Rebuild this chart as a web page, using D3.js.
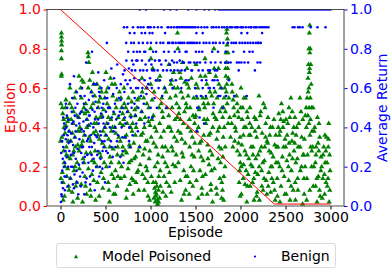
<!DOCTYPE html>
<html><head><meta charset="utf-8">
<script src="https://cdn.jsdelivr.net/npm/d3@7"></script>
<style>body{margin:0;background:#fff} text{font-family:"DejaVu Sans",sans-serif}</style>
</head><body><svg id="c" width="392" height="273"></svg>
<script>
const xTicks=[0,500,1000,1500,2000,2500,3000];
const yTicks=[0,0.2,0.4,0.6,0.8,1.0];
const seriesNames=["Model Poisoned","Benign"];
const epsilonEpisodes=[0,2375,3000];
const epsilonValues=[1.0,0.01,0.01];

const poisoned=[
[10,0.88],[10,0.86],[12,0.84],[12,0.82],[10,0.79],[10,0.75],[12,0.67],[10,0.66],[5,0.52],[55,0.5],[25,0.47],[80,0.43],[40,0.4],[95,0.38],[15,0.35],[65,0.3],[35,0.28],[85,0.25],[50,0.2],[20,0.17],[70,0.15],[30,0.12],[90,0.1],[45,0.05],[60,0.54],[75,0.45],[0,0.33],[40,0.22],
[105,0.6],[155,0.55],[125,0.5],[180,0.46],[140,0.42],[195,0.38],[115,0.33],[165,0.3],[135,0.26],[185,0.22],[150,0.18],[110,0.14],[170,0.1],[130,0.07],[190,0.04],[145,0.48],[160,0.35],
[205,0.66],[255,0.63],[225,0.6],[280,0.52],[240,0.48],[295,0.44],[215,0.4],[265,0.36],[235,0.31],[285,0.27],[250,0.24],[210,0.19],[270,0.15],[230,0.11],[290,0.06],[245,0.02],[260,0.5],[220,0.3],
[305,0.78],[310,0.76],[315,0.73],[355,0.68],[325,0.64],[380,0.56],[340,0.5],[395,0.45],[315,0.41],[365,0.37],[335,0.33],[385,0.28],[350,0.23],[310,0.19],[370,0.13],[330,0.08],[390,0.03],[345,0.58],[375,0.42],
[405,0.62],[455,0.58],[425,0.53],[480,0.49],[440,0.45],[495,0.4],[415,0.36],[465,0.32],[435,0.27],[485,0.22],[450,0.17],[410,0.12],[470,0.09],[430,0.05],[490,0.3],[445,0.55],
[505,0.68],[555,0.65],[525,0.6],[580,0.56],[540,0.5],[595,0.47],[515,0.42],[565,0.38],[535,0.34],[585,0.29],[550,0.25],[510,0.2],[570,0.16],[530,0.12],[590,0.06],[545,0.02],[560,0.44],
[605,0.62],[655,0.58],[625,0.54],[680,0.5],[640,0.45],[695,0.41],[615,0.37],[665,0.33],[635,0.3],[685,0.26],[650,0.22],[610,0.18],[670,0.14],[630,0.1],[690,0.47],
[705,0.6],[755,0.55],[725,0.5],[780,0.46],[740,0.42],[795,0.38],[715,0.35],[765,0.31],[735,0.27],[785,0.23],[750,0.19],[710,0.15],[770,0.11],[730,0.04],[790,0.53],
[805,0.58],[855,0.54],[825,0.49],[880,0.44],[840,0.4],[895,0.36],[815,0.32],[865,0.28],[835,0.25],[885,0.21],[850,0.17],[810,0.13],[870,0.08],[830,0.46],
[905,0.65],[955,0.6],[925,0.55],[980,0.5],[940,0.45],[995,0.41],[915,0.37],[965,0.33],[935,0.29],[985,0.24],[950,0.2],[910,0.16],[970,0.12],[930,0.08],[990,0.03],[960,0.52],
[1000,0.8],[1005,0.75],[1025,0.7],[1080,0.64],[1040,0.58],[1095,0.5],[1015,0.44],[1065,0.38],[1035,0.32],[1085,0.26],[1050,0.2],[1010,0.15],[1070,0.1],[1055,0.07],[1060,0.05],[1075,0.03],[1080,0.01],[1090,0.02],[1065,0.06],[1045,0.09],[1100,0.04],[1030,0.12],
[1105,0.66],[1155,0.6],[1125,0.55],[1180,0.5],[1140,0.45],[1195,0.4],[1115,0.35],[1165,0.3],[1135,0.25],[1185,0.2],[1150,0.15],[1110,0.1],[1170,0.05],[1130,0.48],
[1205,0.72],[1255,0.68],[1225,0.62],[1280,0.56],[1240,0.5],[1295,0.45],[1215,0.4],[1265,0.35],[1235,0.3],[1285,0.26],[1250,0.21],[1210,0.17],[1270,0.12],[1230,0.07],[1290,0.52],
[1300,0.88],[1305,0.8],[1355,0.73],[1325,0.68],[1380,0.63],[1340,0.58],[1395,0.52],[1315,0.47],[1365,0.42],[1335,0.37],[1385,0.32],[1350,0.27],[1310,0.22],[1370,0.18],[1330,0.13],[1390,0.08],[1345,0.03],[1360,0.55],
[1405,0.7],[1455,0.65],[1425,0.6],[1480,0.55],[1440,0.5],[1495,0.45],[1415,0.4],[1465,0.35],[1435,0.3],[1485,0.25],[1450,0.2],[1410,0.15],[1470,0.1],[1430,0.06],[1490,0.42],
[1505,0.72],[1555,0.66],[1525,0.6],[1580,0.55],[1540,0.49],[1595,0.44],[1515,0.38],[1565,0.33],[1535,0.28],[1585,0.23],[1550,0.18],[1510,0.13],[1570,0.09],[1530,0.04],[1590,0.52],
[1605,0.75],[1655,0.68],[1625,0.62],[1680,0.56],[1640,0.52],[1695,0.47],[1615,0.42],[1665,0.37],[1635,0.31],[1685,0.26],[1650,0.21],[1610,0.16],[1670,0.11],[1630,0.06],[1690,0.02],[1660,0.58],
[1705,0.8],[1755,0.7],[1725,0.66],[1780,0.6],[1740,0.55],[1795,0.5],[1715,0.45],[1765,0.4],[1735,0.34],[1785,0.29],[1750,0.24],[1710,0.19],[1770,0.14],[1730,0.09],[1790,0.04],[1760,0.62],
[1850,0.9],[1845,0.88],[1855,0.85],[1850,0.82],[1840,0.78],[1860,0.78],[1845,0.73],[1835,0.7],[1865,0.65],[1825,0.6],[1870,0.55],[1810,0.5],[1880,0.45],[1820,0.4],[1890,0.35],[1830,0.3],[1805,0.25],[1815,0.15],[1800,0.08],
[1905,0.62],[1955,0.56],[1925,0.5],[1980,0.45],[1940,0.4],[1995,0.35],[1915,0.3],[1965,0.28],[1990,0.18],[1995,0.05],[1935,0.33],[1970,0.48],
[2005,0.6],[2055,0.55],[2025,0.5],[2080,0.45],[2040,0.4],[2095,0.36],[2015,0.31],[2065,0.26],[2035,0.21],[2085,0.16],[2050,0.11],[2010,0.06],[2070,0.02],[2030,0.14],[2060,0.4],
[2105,0.5],[2155,0.45],[2125,0.4],[2180,0.35],[2140,0.3],[2195,0.26],[2115,0.21],[2165,0.17],[2135,0.12],[2185,0.07],[2150,0.03],[2110,0.36],[2170,0.24],
[2205,0.56],[2255,0.52],[2225,0.48],[2280,0.42],[2240,0.37],[2295,0.33],[2215,0.28],[2265,0.23],[2235,0.18],[2285,0.13],[2250,0.08],[2210,0.03],[2270,0.3],
[2305,0.45],[2355,0.4],[2325,0.36],[2380,0.31],[2340,0.27],[2395,0.22],[2315,0.17],[2365,0.12],[2335,0.07],[2385,0.03],[2350,0.2],
[2470,0.48],[2455,0.52],[2425,0.47],[2480,0.43],[2440,0.38],[2495,0.34],[2415,0.3],[2465,0.25],[2435,0.2],[2485,0.15],[2450,0.1],[2410,0.05],[2420,0.4],
[2505,0.44],[2560,0.55],[2525,0.42],[2580,0.37],[2540,0.32],[2595,0.28],[2515,0.23],[2565,0.18],[2535,0.13],[2585,0.08],[2550,0.03],[2575,0.48],[2545,0.26],
[2605,0.45],[2660,0.55],[2625,0.4],[2680,0.35],[2640,0.3],[2695,0.26],[2615,0.22],[2665,0.18],[2635,0.14],[2610,0.03],[2690,0.01],
[2770,0.92],[2765,0.88],[2760,0.8],[2775,0.8],[2770,0.78],[2755,0.72],[2780,0.72],[2765,0.68],[2750,0.65],[2785,0.62],[2760,0.6],[2740,0.55],[2775,0.55],[2730,0.5],[2790,0.5],[2720,0.46],[2760,0.42],[2795,0.38],[2710,0.34],[2780,0.3],[2745,0.26],[2790,0.2],[2705,0.14],[2770,0.08],[2735,0.03],
[2805,0.5],[2855,0.45],[2825,0.4],[2880,0.35],[2840,0.3],[2895,0.25],[2815,0.2],[2865,0.15],[2835,0.1],[2885,0.05],[2850,0.02],[2870,0.28],
[2980,0.42],[2955,0.35],[2925,0.3],[2990,0.26],[2940,0.22],[2995,0.18],[2915,0.14],[2965,0.1],[2935,0.06],[2985,0.02],[2950,0.12],[2975,0.3],
[20,0.5],[35,0.44],[50,0.37],[65,0.26],[80,0.19],[95,0.08],[5,0.14],[30,0.03],[85,0.33],[60,0.41],
[102,0.52],[118,0.44],[132,0.37],[148,0.28],[162,0.2],[178,0.12],[192,0.31],[108,0.24],[172,0.58],[138,0.02],
[202,0.45],[218,0.38],[232,0.55],[248,0.33],[262,0.22],[278,0.1],[292,0.4],[208,0.28],[272,0.47],[238,0.64],
[302,0.48],[318,0.35],[332,0.27],[348,0.16],[362,0.52],[378,0.22],[392,0.38],[308,0.6],[368,0.62],[338,0.05],
[402,0.42],[418,0.5],[432,0.34],[448,0.25],[462,0.46],[478,0.14],[492,0.55],[408,0.2],[472,0.38],[438,0.6],
[502,0.36],[518,0.52],[532,0.45],[548,0.3],[562,0.22],[578,0.4],[592,0.14],[508,0.58],[572,0.62],[538,0.08],
[602,0.4],[618,0.5],[632,0.26],[648,0.35],[662,0.42],[678,0.2],[692,0.3],[608,0.06],[672,0.55],[638,0.15],
[702,0.44],[718,0.28],[732,0.36],[748,0.48],[762,0.22],[778,0.4],[792,0.14],[708,0.52],[772,0.3],[738,0.08],
[802,0.42],[818,0.24],[832,0.36],[848,0.5],[862,0.18],[878,0.3],[892,0.44],[808,0.06],[872,0.55],[838,0.12],
[902,0.48],[918,0.26],[932,0.4],[948,0.33],[962,0.18],[978,0.43],[992,0.28],[908,0.58],[972,0.05],[938,0.14],
[1002,0.62],[1018,0.54],[1032,0.46],[1048,0.4],[1062,0.3],[1078,0.22],[1092,0.15],[1008,0.35],[1072,0.0],[1038,0.04],[1052,0.02],[1088,0.08],[1058,0.12],
[1102,0.42],[1118,0.52],[1132,0.3],[1148,0.38],[1162,0.22],[1178,0.12],[1192,0.28],[1108,0.18],[1172,0.58],[1138,0.07],
[1202,0.46],[1218,0.55],[1232,0.38],[1248,0.28],[1262,0.6],[1278,0.2],[1292,0.33],[1208,0.1],[1272,0.44],[1238,0.64],
[1302,0.6],[1318,0.5],[1332,0.44],[1348,0.34],[1362,0.25],[1378,0.48],[1392,0.15],[1308,0.38],[1372,0.06],[1338,0.65],
[1402,0.5],[1418,0.56],[1432,0.44],[1448,0.38],[1462,0.26],[1478,0.18],[1492,0.32],[1408,0.62],[1472,0.46],[1438,0.12],
[1502,0.46],[1518,0.55],[1532,0.4],[1548,0.32],[1562,0.25],[1578,0.15],[1592,0.36],[1508,0.62],[1572,0.06],[1538,0.5],
[1602,0.5],[1618,0.55],[1632,0.44],[1648,0.36],[1662,0.28],[1678,0.18],[1692,0.4],[1608,0.66],[1672,0.08],[1638,0.24],
[1702,0.52],[1718,0.58],[1732,0.44],[1748,0.38],[1762,0.3],[1778,0.22],[1792,0.12],[1708,0.7],[1772,0.48],[1738,0.06],
[1802,0.45],[1818,0.55],[1832,0.48],[1848,0.62],[1838,0.66],[1858,0.7],[1842,0.58],[1808,0.35],[1828,0.2],[1812,0.03],[1852,0.52],[1862,0.42],
[1902,0.42],[1918,0.54],[1932,0.46],[1948,0.38],[1962,0.52],[1978,0.32],[1992,0.26],[1908,0.58],[1985,0.12],[1998,0.22],
[2002,0.5],[2018,0.44],[2032,0.36],[2048,0.28],[2062,0.18],[2078,0.1],[2092,0.24],[2008,0.2],[2072,0.48],[2038,0.55],
[2102,0.42],[2118,0.3],[2132,0.2],[2148,0.14],[2162,0.38],[2178,0.05],[2192,0.16],[2108,0.1],[2172,0.44],[2138,0.26],
[2202,0.4],[2218,0.46],[2232,0.3],[2248,0.22],[2262,0.14],[2278,0.35],[2292,0.06],[2208,0.2],[2272,0.5],[2238,0.1],
[2302,0.32],[2318,0.28],[2332,0.4],[2348,0.14],[2362,0.25],[2378,0.08],[2392,0.36],[2308,0.1],[2372,0.44],[2338,0.2],
[2402,0.3],[2418,0.22],[2432,0.36],[2448,0.44],[2462,0.18],[2478,0.3],[2492,0.06],[2408,0.14],[2472,0.4],[2438,0.02],
[2502,0.3],[2518,0.36],[2532,0.2],[2548,0.45],[2562,0.1],[2578,0.24],[2592,0.4],[2508,0.06],[2572,0.33],[2538,0.5],
[2602,0.32],[2618,0.36],[2632,0.24],[2648,0.42],[2662,0.3],[2678,0.2],[2692,0.44],[2608,0.12],[2672,0.48],[2638,0.08],
[2702,0.26],[2718,0.2],[2732,0.4],[2748,0.46],[2762,0.5],[2778,0.44],[2792,0.28],[2708,0.06],[2772,0.36],[2738,0.14],[2752,0.58],[2768,0.7],
[2802,0.3],[2818,0.38],[2832,0.22],[2848,0.14],[2862,0.32],[2878,0.08],[2892,0.18],[2808,0.1],[2872,0.42],[2838,0.26],
[2902,0.2],[2918,0.26],[2932,0.16],[2948,0.28],[2962,0.22],[2978,0.34],[2992,0.08],[2908,0.04],[2972,0.14],[2938,0.36]
];

const benign=[
[5,0.02],[10,0.06],[15,0.12],[20,0.18],[25,0.24],[30,0.3],[35,0.36],[40,0.42],[45,0.15],[50,0.22],[55,0.28],[60,0.34],[65,0.4],[70,0.46],[75,0.5],[80,0.1],[85,0.2],[90,0.32],[95,0.38],[30,0.45],[60,0.52],[15,0.05],[50,0.08],
[105,0.62],[110,0.14],[115,0.26],[120,0.37],[125,0.48],[130,0.55],[135,0.2],[140,0.31],[145,0.43],[150,0.09],[155,0.16],[160,0.35],[165,0.5],[170,0.24],[175,0.41],[180,0.58],[185,0.12],[190,0.29],[195,0.45],[150,0.66],
[205,0.21],[210,0.34],[215,0.47],[220,0.56],[225,0.1],[230,0.27],[235,0.39],[240,0.6],[245,0.17],[250,0.3],[255,0.43],[260,0.52],[265,0.06],[270,0.25],[275,0.36],[280,0.49],[285,0.73],[290,0.14],[295,0.33],
[305,0.41],[310,0.22],[315,0.54],[320,0.3],[325,0.46],[330,0.11],[335,0.36],[340,0.58],[345,0.26],[350,0.785],[355,0.49],[360,0.18],[365,0.4],[370,0.62],[375,0.32],[380,0.08],[385,0.44],[390,0.53],[395,0.2],
[405,0.35],[410,0.5],[415,0.28],[420,0.68],[425,0.42],[430,0.15],[435,0.56],[440,0.38],[445,0.24],[450,0.47],[455,0.6],[460,0.33],[465,0.19],[470,0.45],[475,0.52],[480,0.3],[485,0.64],[490,0.4],[495,0.12],
[505,0.48],[510,0.36],[515,0.83],[520,0.55],[525,0.27],[530,0.42],[540,0.6],[545,0.2],[550,0.5],[560,0.33],[565,0.7],[570,0.45],[580,0.25],[585,0.57],[590,0.38],[595,0.65],
[605,0.52],[610,0.3],[620,0.44],[625,0.6],[630,0.72],[640,0.36],[650,0.55],[660,0.48],[665,0.25],[670,0.62],[680,0.4],[690,0.5],[695,0.67],
[8,0.27],[18,0.33],[28,0.09],[38,0.2],[48,0.39],[58,0.15],[68,0.25],[78,0.36],[88,0.44],[98,0.28],
[108,0.33],[118,0.2],[128,0.42],[138,0.11],[148,0.27],[158,0.46],[168,0.38],[178,0.18],[188,0.52],[198,0.06],
[208,0.42],[218,0.15],[228,0.48],[238,0.3],[248,0.22],[258,0.38],[268,0.56],[278,0.12],[288,0.44],[298,0.26],
[308,0.34],[318,0.46],[328,0.15],[338,0.42],[348,0.3],[358,0.56],[368,0.24],[378,0.48],[388,0.36],[398,0.62],
[408,0.26],[418,0.44],[428,0.58],[438,0.2],[448,0.36],[458,0.5],[468,0.28],[478,0.42],[488,0.33],[498,0.55],
[508,0.28],[528,0.5],[548,0.4],[568,0.3],[588,0.48],[608,0.4],[628,0.33],[648,0.46],[668,0.54],[688,0.35],
[705,0.91],[710,0.58],[715,0.45],[720,0.35],[730,0.83],[740,0.91],[745,0.62],[750,0.52],[760,0.7],[765,0.4],[770,0.88],[775,0.3],[780,0.6],[785,0.83],[790,0.5],[795,0.74],
[805,0.91],[810,0.72],[815,0.83],[820,0.65],[825,0.55],[830,0.69],[835,0.46],[840,0.6],[850,0.785],[855,0.74],[860,0.91],[865,0.5],[870,0.83],[875,0.64],[880,1.0],[885,0.69],[890,0.91],[895,0.56],[860,0.38],[880,0.3],
[905,0.74],[910,0.6],[915,0.83],[920,0.69],[925,0.52],[930,0.785],[935,0.64],[940,0.88],[945,0.72],[950,1.0],[955,0.57],[960,0.69],[965,0.83],[970,0.91],[975,0.62],[980,0.45],[985,0.74],[990,0.88],[995,0.65],
[1005,0.83],[1010,0.72],[1015,0.6],[1020,0.69],[1030,0.785],[1040,0.91],[1045,0.55],[1050,0.74],[1060,0.64],[1065,0.83],[1070,0.5],[1080,0.69],[1090,0.6],[1095,0.74],
[1105,0.64],[1110,0.83],[1120,0.72],[1130,0.56],[1140,0.69],[1150,0.785],[1160,0.6],[1170,0.74],[1180,0.5],[1190,0.91],[1195,0.83],
[1200,0.91],[1210,0.83],[1215,0.72],[1220,1.0],[1225,0.69],[1230,0.91],[1240,0.74],[1245,0.6],[1250,0.83],[1260,0.91],[1265,0.69],[1270,0.785],[1280,0.83],[1290,0.91],[1295,0.73],
[1300,0.91],[1310,0.83],[1320,0.91],[1325,0.74],[1330,0.83],[1340,0.91],[1345,0.69],[1350,0.83],[1360,0.91],[1370,0.73],[1375,0.83],[1380,0.91],[1390,0.785],[1395,0.64],
[1400,0.91],[1410,0.83],[1420,0.91],[1425,0.73],[1430,0.83],[1440,0.91],[1450,0.83],[1455,0.69],[1460,0.91],[1470,0.83],[1480,0.91],[1485,0.73],[1490,0.83],[1495,0.6],
[712,0.69],[722,0.64],[732,0.74],[752,0.785],[772,0.64],[792,0.69],[812,0.785],[822,0.88],[842,0.74],[862,0.6],[882,0.785],[902,0.88],[922,0.91],[942,0.785],[962,0.6],[982,0.91],[1002,0.91],[1022,0.88],[1042,0.69],[1062,0.785],
[1082,0.91],[1102,0.74],[1122,0.91],[1142,0.83],[1162,0.88],[1182,0.69],[1202,0.785],[1222,0.64],[1242,0.83],[1262,0.73],[1282,0.64],[1302,0.69],[1322,0.785],[1342,0.6],[1362,0.73],[1382,0.69],[1402,0.785],[1422,0.64],[1442,0.73],[1462,0.69],
[722,0.42],[742,0.48],[762,0.33],[782,0.45],[802,0.36],[822,0.52],[842,0.42],[902,0.48],[932,0.42],[1002,0.5],[1022,0.45],[700,0.22],[690,0.28],
[1500,0.91],[1510,0.56],[1515,0.83],[1520,0.73],[1525,0.5],[1530,0.91],[1540,0.785],[1545,0.83],[1550,0.73],[1560,0.56],[1565,0.91],[1570,0.64],[1580,0.69],[1590,0.83],[1595,0.42],[1510,0.88],[1580,0.88],
[1600,0.91],[1610,0.73],[1620,0.83],[1630,0.91],[1640,0.69],[1650,1.0],[1655,0.83],[1660,0.6],[1670,0.73],[1680,0.91],[1690,0.64],[1695,0.83],
[1700,0.91],[1705,0.6],[1710,0.64],[1720,0.73],[1725,0.83],[1730,0.91],[1740,0.69],[1750,0.785],[1755,0.56],[1760,0.91],[1770,0.83],[1780,0.73],[1790,0.6],[1795,0.91],
[1810,0.83],[1820,0.91],[1830,0.73],[1840,0.56],[1850,0.91],[1860,0.83],[1870,0.64],[1880,0.91],[1890,0.73],
[1900,0.83],[1910,0.91],[1920,0.785],[1930,0.56],[1940,0.91],[1950,0.83],[1960,0.73],[1970,0.91],[1980,0.69],[1990,0.83],
[2000,0.91],[2010,0.73],[2010,0.88],[2020,0.83],[2030,0.91],[2040,0.785],[2050,0.83],[2060,0.91],[2070,0.56],[2075,0.88],[2080,0.83],[2090,0.91],
[2100,0.785],[2110,0.83],[2120,0.91],[2140,0.83],[2150,0.91],[2160,0.69],[2170,0.83],[2180,0.91],[2190,0.73],
[2200,0.83],[2210,0.91],[2220,0.73],[2230,0.91],[2240,0.88],[2250,0.91],[2270,0.91],[2290,0.91],[2310,0.91],
[1505,0.785],[1535,0.69],[1575,0.785],[1615,0.56],[1645,0.6],[1685,0.785],[1715,0.69],[1745,0.64],[1775,0.56],[1805,0.5],[1835,0.785],[1865,0.73],[1895,0.91],[1925,0.83],[1955,0.91],[1985,0.73],
[2015,0.91],[2045,0.73],[2085,0.73],[2115,0.91],[2135,0.785],[2165,0.91],[2195,0.83],[2225,0.83],[1520,0.5],[1545,0.45],[1700,0.5],[1580,0.6],[1620,0.64],[1660,0.69],[1515,0.38],
[2580,0.91],[2600,0.91],[2640,0.91],[2660,0.91],[2690,0.91],[2780,0.91],[2855,0.91],[2945,0.91],
[1150,1.0],[1290,1.0],[1420,1.0],[1510,1.0],[1600,1.0],[1720,1.0],[1760,1.0],[1780,1.0],[1800,1.0],[1820,1.0],[1840,1.0],[1860,1.0],[1880,1.0],[1900,1.0],[1920,1.0],[1940,1.0],[1960,1.0],[1980,1.0],
[2000,1.0],[2020,1.0],[2040,1.0],[2060,1.0],[2080,1.0],[2100,1.0],[2120,1.0],[2140,1.0],[2160,1.0],[2180,1.0],[2200,1.0],[2220,1.0],[2240,1.0],[2260,1.0],[2280,1.0],[2300,1.0],[2320,1.0],[2340,1.0],[2360,1.0],[2380,1.0],
[2400,1.0],[2420,1.0],[2440,1.0],[2460,1.0],[2480,1.0],[2500,1.0],[2520,1.0],[2540,1.0],[2560,1.0],[2580,1.0],[2600,1.0],[2620,1.0],[2640,1.0],[2660,1.0],[2680,1.0],[2700,1.0],[2720,1.0],[2740,1.0],[2760,1.0],[2780,1.0],
[2800,1.0],[2820,1.0],[2840,1.0],[2860,1.0],[2880,1.0],[2900,1.0],[2920,1.0],[2940,1.0],[2960,1.0],[2980,1.0],[3000,1.0]
];

const P={l:47,r:344,t:9.5,b:206};
const svg=d3.select("#c");
const x=d3.scaleLinear().domain([-150,3150]).range([P.l,P.r]);
const yL=d3.scaleLinear().domain([0,1]).range([P.b,P.t]);
const yR=d3.scaleLinear().domain([0,1]).range([P.b,P.t]);
const GREEN="#008000",BLUE="#0000ff",RED="#ff0000";

svg.append("defs").append("clipPath").attr("id","clip").append("rect")
  .attr("x",P.l).attr("y",P.t).attr("width",P.r-P.l).attr("height",P.b-P.t);

const plot=svg.append("g").attr("clip-path","url(#clip)");
const tri=d3.symbol().type(d3.symbolTriangle).size(12);
plot.append("g").selectAll("path").data(poisoned).join("path")
  .attr("d",tri).attr("transform",d=>`translate(${x(d[0])},${yL(d[1])})`).attr("fill",GREEN);
plot.append("g").selectAll("circle").data(benign).join("circle")
  .attr("cx",d=>x(d[0])).attr("cy",d=>yR(d[1])).attr("r",1.3).attr("fill",BLUE);
const eps=epsilonEpisodes.map((e,i)=>[e,epsilonValues[i]]);
plot.append("path").datum(eps).attr("fill","none").attr("stroke",RED).attr("stroke-width",1)
  .attr("d",d3.line().x(d=>x(d[0])).y(d=>yL(d[1])));

function styleAxis(g,color,lineColor){
  g.select(".domain").remove();
  g.selectAll(".tick line").attr("stroke",lineColor);
  g.selectAll(".tick text").attr("fill",color).style("font-size","14px").style("font-family","DejaVu Sans");
}
const fmt=d3.format(".1f");
const gx=svg.append("g").attr("transform",`translate(0,${P.b})`)
  .call(d3.axisBottom(x).tickValues(xTicks).tickFormat(d3.format("d")).tickSize(3.5).tickPadding(2.5));
styleAxis(gx,"#000","#000");
const gl=svg.append("g").attr("transform",`translate(${P.l},0)`)
  .call(d3.axisLeft(yL).tickValues(yTicks).tickFormat(fmt).tickSize(3.5).tickPadding(2.5));
styleAxis(gl,RED,RED);
const gr=svg.append("g").attr("transform",`translate(${P.r},0)`)
  .call(d3.axisRight(yR).tickValues(yTicks).tickFormat(fmt).tickSize(3.5).tickPadding(2.5));
styleAxis(gr,BLUE,BLUE);

svg.append("rect").attr("x",P.l).attr("y",P.t).attr("width",P.r-P.l).attr("height",P.b-P.t)
  .attr("fill","none").attr("stroke","#222").attr("stroke-width",0.8);
svg.append("line").attr("x1",P.r).attr("x2",P.r).attr("y1",P.t).attr("y2",P.b).attr("stroke","#999").attr("stroke-width",0.8);

svg.append("text").attr("x",(P.l+P.r)/2).attr("y",237).attr("text-anchor","middle")
  .style("font-size","14px").text("Episode");
svg.append("text").attr("transform",`translate(15,${(P.t+P.b)/2}) rotate(-90)`).attr("text-anchor","middle")
  .attr("fill",RED).style("font-size","14px").text("Epsilon");
svg.append("text").attr("transform",`translate(387,${(P.t+P.b)/2}) rotate(-90)`).attr("text-anchor","middle")
  .attr("fill",BLUE).style("font-size","14px").text("Average Return");

const lg=svg.append("g");
lg.append("rect").attr("x",56.5).attr("y",243.5).attr("width",279).attr("height",24).attr("rx",2.5)
  .attr("fill","#fff").attr("stroke","#d0d0d0").attr("stroke-width",0.8);
lg.append("path").attr("d",d3.symbol().type(d3.symbolTriangle).size(8)).attr("transform","translate(76,257)").attr("fill",GREEN);
lg.append("text").attr("x",102).attr("y",260.5).style("font-size","14px").text(seriesNames[0]);
lg.append("circle").attr("cx",255).attr("cy",256.5).attr("r",1.1).attr("fill",BLUE);
lg.append("text").attr("x",281).attr("y",260.5).style("font-size","14px").text(seriesNames[1]);
</script></body></html>
